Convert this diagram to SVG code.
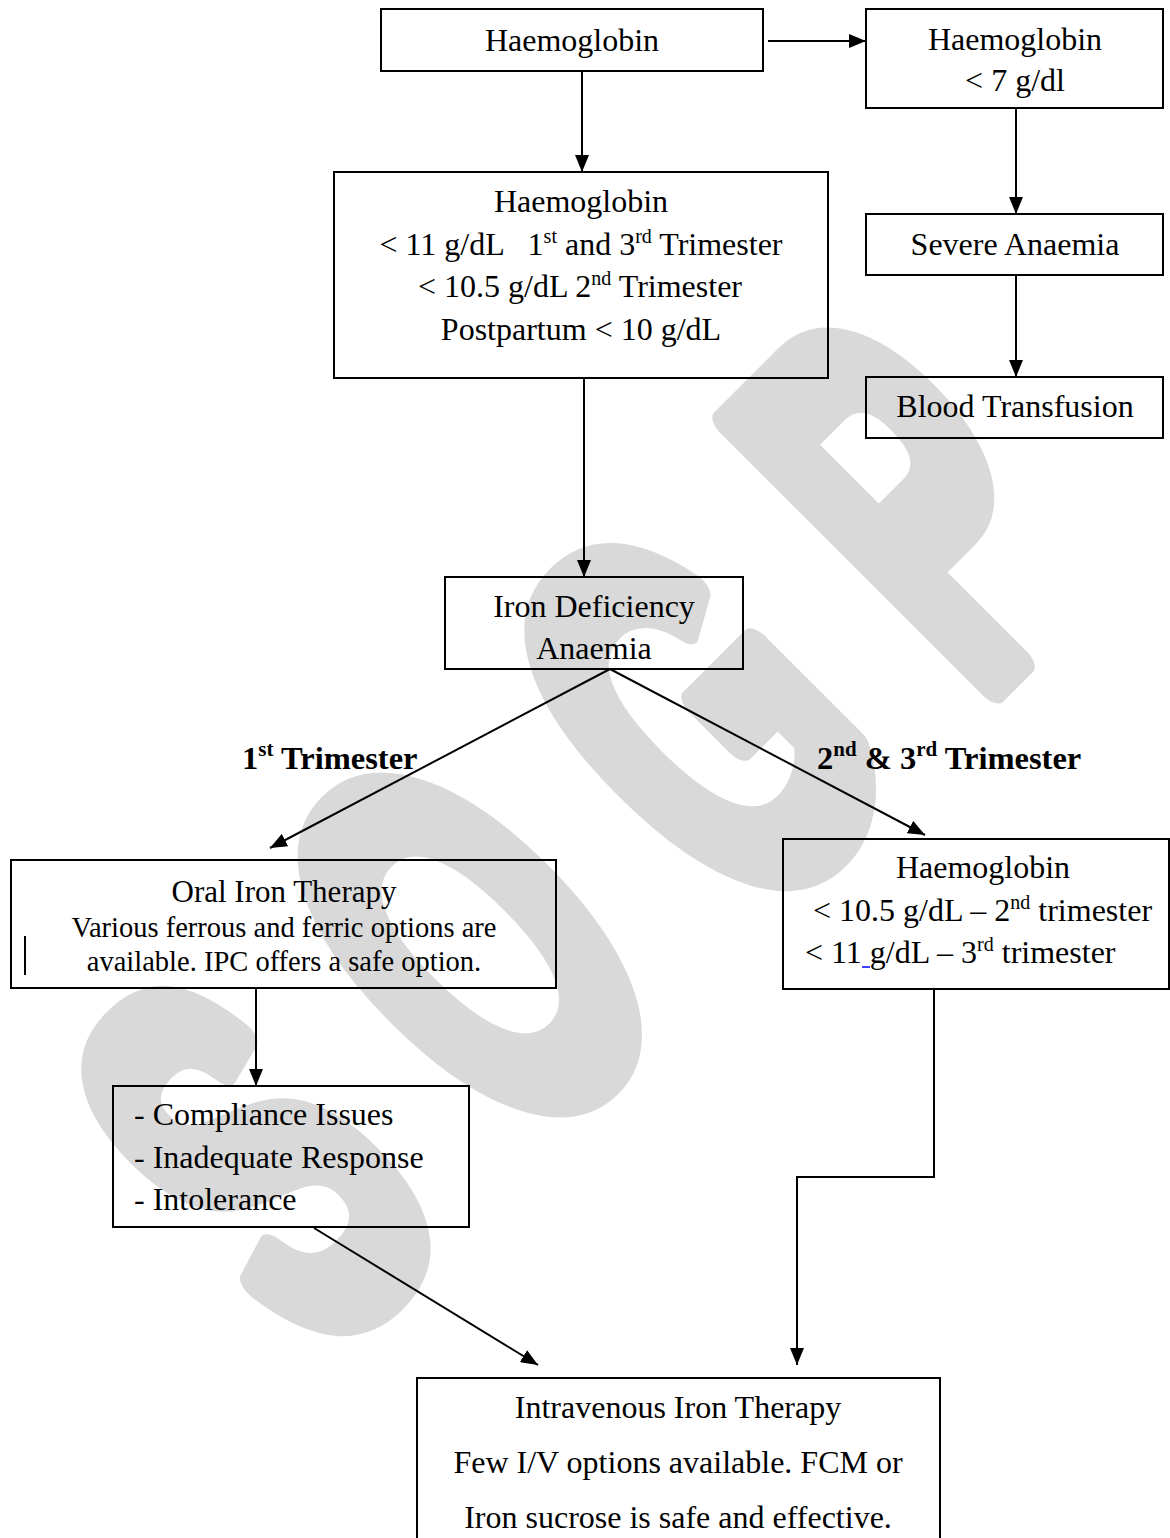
<svg xmlns="http://www.w3.org/2000/svg" width="1170" height="1538" viewBox="0 0 1170 1538">
<defs>
<marker id="arr" markerUnits="userSpaceOnUse" markerWidth="18" markerHeight="14" refX="17" refY="7" orient="auto">
<path d="M0,0 L17,7 L0,14 z" fill="#000"/>
</marker>
<style>
.box{fill:none;stroke:#000;stroke-width:2}
.t{font-family:"Liberation Serif","Times New Roman",serif;font-size:32px;fill:#000}
.s{font-family:"Liberation Serif","Times New Roman",serif;font-size:28.5px;fill:#000}
.b{font-family:"Liberation Serif","Times New Roman",serif;font-size:32.5px;font-weight:bold;fill:#000}
.c{text-anchor:middle}
.con{fill:none;stroke:#000;stroke-width:2}
.wm{font-family:"Liberation Sans",Arial,sans-serif;font-weight:bold;font-size:540px;fill:#d9d9d9;stroke:#d9d9d9;stroke-width:30px;stroke-linejoin:round;letter-spacing:175px}
</style>
</defs>
<rect width="1170" height="1538" fill="#fff"/>
<g id="watermark">
<text class="wm" x="0" y="0" vector-effect="non-scaling-stroke" transform="translate(317.5,1361) rotate(-45) scale(0.54,1)">SOGP</text>
</g>
<g id="connectors">
<line class="con" x1="768" y1="41" x2="866" y2="41" marker-end="url(#arr)"/>
<line class="con" x1="582" y1="71" x2="582" y2="172" marker-end="url(#arr)"/>
<line class="con" x1="1016" y1="108" x2="1016" y2="214" marker-end="url(#arr)"/>
<line class="con" x1="1016" y1="275" x2="1016" y2="377" marker-end="url(#arr)"/>
<line class="con" x1="584" y1="378" x2="584" y2="577" marker-end="url(#arr)"/>
<line class="con" x1="610" y1="669" x2="270" y2="848" marker-end="url(#arr)"/>
<line class="con" x1="610" y1="669" x2="925" y2="835" marker-end="url(#arr)"/>
<line class="con" x1="256" y1="988" x2="256" y2="1086" marker-end="url(#arr)"/>
<line class="con" x1="314" y1="1228" x2="538" y2="1365" marker-end="url(#arr)"/>
<polyline class="con" points="934,989 934,1177 797,1177 797,1365" marker-end="url(#arr)"/>
</g>
<g id="n-hb">
<rect class="box" x="381" y="9" width="382" height="62"/>
<text class="t c" x="572" y="51">Haemoglobin</text>
</g>
<g id="n-hb7">
<rect class="box" x="866" y="9" width="297" height="99"/>
<text class="t c" x="1015" y="50">Haemoglobin</text>
<text class="t c" x="1015" y="91">&lt; 7 g/dl</text>
</g>
<g id="n-hb11">
<rect class="box" x="334" y="172" width="494" height="206"/>
<text class="t c" x="581" y="212">Haemoglobin</text>
<text class="t c" x="581" y="255" xml:space="preserve">&lt; 11 g/dL   1<tspan font-size="20" dy="-12">st</tspan><tspan dy="12"> and 3</tspan><tspan font-size="20" dy="-12">rd</tspan><tspan dy="12"> Trimester</tspan></text>
<text class="t c" x="580" y="297">&lt; 10.5 g/dL 2<tspan font-size="20" dy="-12">nd</tspan><tspan dy="12"> Trimester</tspan></text>
<text class="t c" x="581" y="340">Postpartum &lt; 10 g/dL</text>
</g>
<g id="n-severe">
<rect class="box" x="866" y="214" width="297" height="61"/>
<text class="t c" x="1015" y="255">Severe Anaemia</text>
</g>
<g id="n-blood">
<rect class="box" x="866" y="377" width="297" height="61"/>
<text class="t c" x="1015" y="417">Blood Transfusion</text>
</g>
<g id="n-ida">
<rect class="box" x="445" y="577" width="298" height="92"/>
<text class="t c" x="594" y="617">Iron Deficiency</text>
<text class="t c" x="594" y="659">Anaemia</text>
</g>
<g id="labels">
<text class="b" x="242" y="769">1<tspan font-size="21" dy="-13">st</tspan><tspan dy="13"> Trimester</tspan></text>
<text class="b" x="817" y="769">2<tspan font-size="21" dy="-13">nd</tspan><tspan dy="13"> &amp; 3</tspan><tspan font-size="21" dy="-13">rd</tspan><tspan dy="13"> Trimester</tspan></text>
</g>
<g id="n-oral">
<rect class="box" x="11" y="860" width="545" height="128"/>
<text class="t c" x="284" y="902" style="font-size:31px">Oral Iron Therapy</text>
<text class="s c" x="284" y="937">Various ferrous and ferric options are</text>
<text class="s c" x="284" y="971">available. IPC offers a safe option.</text>
<line x1="25" y1="936" x2="25" y2="975" stroke="#000" stroke-width="2"/>
</g>
<g id="n-hb2">
<rect class="box" x="783" y="839" width="386" height="150"/>
<text class="t c" x="983" y="878">Haemoglobin</text>
<text class="t" x="813" y="921">&lt; 10.5 g/dL – 2<tspan font-size="20" dy="-12">nd</tspan><tspan dy="12"> trimester</tspan></text>
<text class="t" x="805" y="963">&lt; 11 g/dL – 3<tspan font-size="20" dy="-12">rd</tspan><tspan dy="12"> trimester</tspan></text>
<line x1="862" y1="967" x2="870" y2="967" stroke="#0000ff" stroke-width="1.5"/>
</g>
<g id="n-issues">
<rect class="box" x="113" y="1086" width="356" height="141"/>
<text class="t" x="134" y="1125">- Compliance Issues</text>
<text class="t" x="134" y="1168">- Inadequate Response</text>
<text class="t" x="134" y="1210">- Intolerance</text>
</g>
<g id="n-iv">
<rect class="box" x="417" y="1378" width="523" height="200"/>
<text class="t c" x="678" y="1418">Intravenous Iron Therapy</text>
<text class="t c" x="678" y="1473">Few I/V options available. FCM or</text>
<text class="t c" x="678" y="1528">Iron sucrose is safe and effective.</text>
</g>
</svg>
